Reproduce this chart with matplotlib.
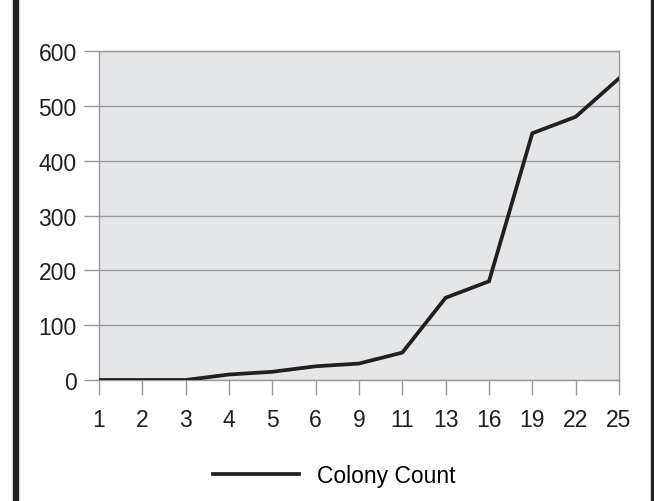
import matplotlib
matplotlib.use("Agg")
import matplotlib.pyplot as plt
from matplotlib.patches import Rectangle

# --- Data ---
days = ["1", "2", "3", "4", "5", "6", "9", "11", "13", "16", "19", "22", "25"]
colony_count = [0, 0, 0, 10, 15, 25, 30, 50, 150, 180, 450, 480, 550]
y_ticks = [0, 100, 200, 300, 400, 500, 600]

plt.rcParams["font.family"] = ["Liberation Sans", "DejaVu Sans"]

W, H = 654, 502
FS = 16.5
fig = plt.figure(figsize=(W / 100, H / 100), dpi=100)
ax = fig.add_axes([99 / W, 1 - 381 / H, (619 - 99) / W, (381 - 52) / H])

grid_col = "#9a9a9c"
ax.set_facecolor("#e5e6e8")
x = list(range(len(days)))
ax.plot(x, colony_count, color="#231f20", lw=2.7, solid_joinstyle="miter",
        label="Colony Count", zorder=3)

ax.set_xlim(0, len(days) - 1)
ax.set_ylim(0, 600)
ax.set_xticks(x)
ax.set_xticklabels(days)
ax.set_yticks(y_ticks)
ax.yaxis.grid(True, color=grid_col, lw=1.0)
ax.set_axisbelow(True)
for s in ax.spines.values():
    s.set_color(grid_col)
    s.set_linewidth(1.0)
ax.tick_params(axis="both", colors=grid_col, length=10.5, width=1.0,
               labelcolor="#231f20", labelsize=FS)
ax.tick_params(axis="x", pad=9.5)
ax.tick_params(axis="y", pad=5.5)

leg = ax.legend(loc="center", bbox_to_anchor=(0.453, -0.29), frameon=False,
                fontsize=FS, handlelength=3.75, handletextpad=0.8)

# frame bars at left and right edges
fig.patches.append(Rectangle((13 / W, 0), 5 / W, 1, transform=fig.transFigure,
                             color="#231f20", zorder=0))
fig.patches.append(Rectangle((651 / W, 0), 3 / W, 1, transform=fig.transFigure,
                             color="#231f20", zorder=0))

fig.savefig("out.png", dpi=100)
